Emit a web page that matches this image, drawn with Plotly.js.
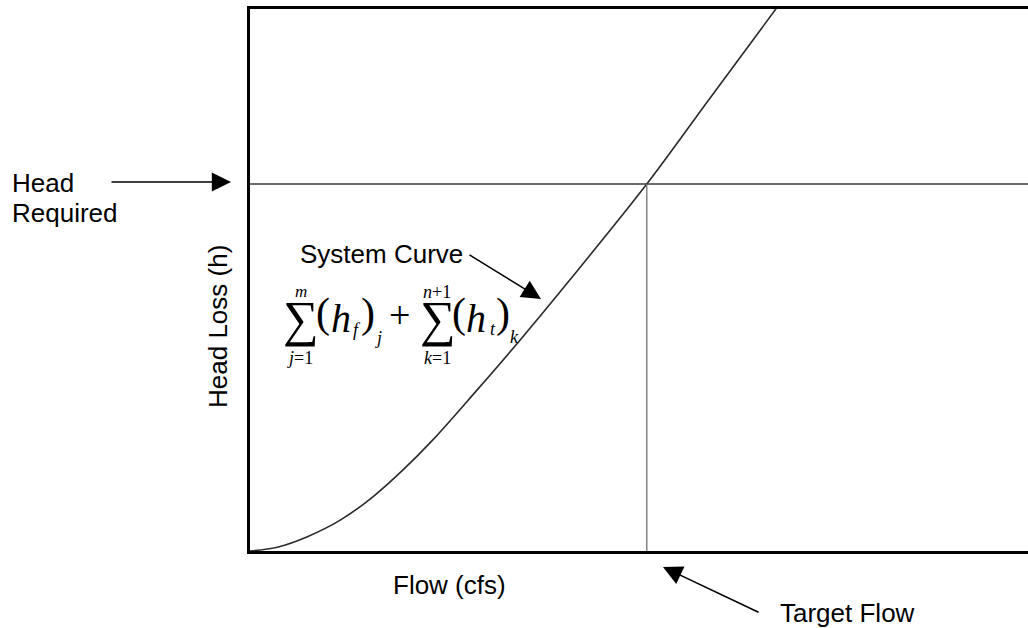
<!DOCTYPE html>
<html>
<head>
<meta charset="utf-8">
<script src="https://cdn.plot.ly/plotly-3.0.1.min.js"></script>
<style>html,body{margin:0;padding:0;background:#fff;}#chart{width:1028px;height:628px;}</style>
</head>
<body>
<div id="chart"></div>
<script>
// System curve: flow (arbitrary units) vs head loss (arbitrary units)
const flow = [0, 3.5, 7.3, 11.6, 15.8, 19.7, 23.5, 29.0, 34.7, 41.1, 51.0, 59.0, 68.0];
const headLoss = [0, 0.7, 2.6, 5.7, 10.0, 15.0, 20.5, 29.4, 38.9, 50.0, 67.7, 83.3, 100.8];
const headRequired = 67.7;
const targetFlow = 51.0;
const xRange = [0, 100];
const yRange = [0, 100];

const W = 1028, H = 628;
const M = {l: 250, r: 0, t: 9, b: 77};
const pw = W - M.l - M.r, ph = H - M.t - M.b;
const px = x => (x - M.l) / pw;
const py = y => (M.t + ph - y) / ph;

const traces = [
  {x: flow, y: headLoss, mode: 'lines', line: {color: '#2a2a2a', width: 1.6, shape: 'spline', smoothing: 1}, hoverinfo: 'skip'},
  {x: [xRange[0], xRange[1]], y: [headRequired, headRequired], mode: 'lines', line: {color: '#3a3a3a', width: 1.5}, hoverinfo: 'skip'},
  {x: [targetFlow, targetFlow], y: [yRange[0], headRequired], mode: 'lines', line: {color: '#7a7a7a', width: 1.4}, hoverinfo: 'skip'}
];

const sans = 'Liberation Sans, Arial, sans-serif';
const serif = 'Liberation Serif, Times New Roman, serif';

function txt(t, x, y, size, family, opts) {
  return Object.assign({
    text: t, xref: 'paper', yref: 'paper', x: px(x), y: py(y),
    xanchor: 'center', yanchor: 'middle', showarrow: false,
    font: {family: family, size: size, color: '#000'}
  }, opts || {});
}
function arrow(tipX, tipY, tailX, tailY) {
  return {
    text: '', xref: 'paper', yref: 'paper', x: px(tipX), y: py(tipY),
    ax: tailX - tipX, ay: tailY - tipY, showarrow: true,
    arrowhead: 2, arrowsize: 2.4, arrowwidth: 1.6, arrowcolor: '#000'
  };
}

const annotations = [
  txt('Head', 10, 183, 26, sans, {xanchor: 'left'}),
  txt('Required', 10, 213, 26, sans, {xanchor: 'left'}),
  arrow(231, 182, 110, 182),
  txt('Head Loss (h)', 218, 327, 26, sans, {textangle: -90}),
  txt('Flow (cfs)', 449, 585, 26, sans),
  txt('Target Flow', 778, 613, 26, sans, {xanchor: 'left'}),
  arrow(663, 567, 760, 613),
  txt('System Curve', 298, 254, 26, sans, {xanchor: 'left'}),
  arrow(541, 299, 468, 254),
  // formula
  txt('\u2211', 301, 318.5, 50, serif),
  txt('<i>m</i>', 301, 292, 17, serif),
  txt('<i>j</i>=1', 300, 358, 18, serif),
  txt('(', 323, 313, 42, serif),
  txt('<i>h</i>', 341, 318.5, 40, serif),
  txt('<i>f</i>', 357, 330, 18, serif),
  txt(')', 368, 313, 42, serif),
  txt('<i>j</i>', 378, 338, 18, serif),
  txt('+', 399, 315, 38, serif),
  txt('\u2211', 437.5, 318.5, 50, serif),
  txt('<i>n</i>+1', 437, 292, 18, serif),
  txt('<i>k</i>=1', 437, 358, 18, serif),
  txt('(', 459, 313, 42, serif),
  txt('<i>h</i>', 476, 318.5, 40, serif),
  txt('<i>t</i>', 493, 329, 18, serif),
  txt(')', 503, 313, 42, serif),
  txt('<i>k</i>', 514, 337, 18, serif)
];

const layout = {
  width: W, height: H,
  margin: M,
  paper_bgcolor: '#fff', plot_bgcolor: '#fff',
  showlegend: false,
  xaxis: {range: xRange, showgrid: false, zeroline: false, showticklabels: false, ticks: '',
          showline: true, linecolor: '#000', linewidth: 3, mirror: true, fixedrange: true},
  yaxis: {range: yRange, showgrid: false, zeroline: false, showticklabels: false, ticks: '',
          showline: true, linecolor: '#000', linewidth: 3, mirror: false, fixedrange: true},
  annotations: annotations
};

Plotly.newPlot('chart', traces, layout, {displayModeBar: false, staticPlot: true});
</script>
</body>
</html>
